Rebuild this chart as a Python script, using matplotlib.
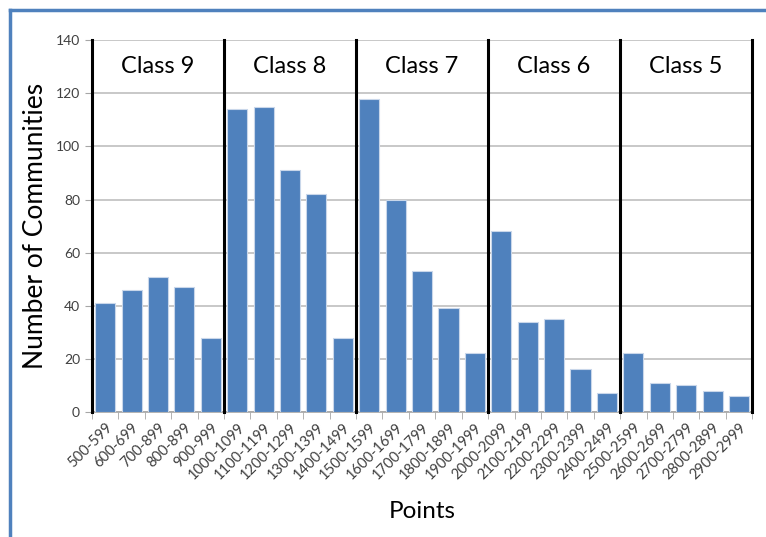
import matplotlib.pyplot as plt
from matplotlib.lines import Line2D

plt.rcParams['font.family'] = ['Lato', 'DejaVu Sans']

# Data
point_ranges = ['500-599', '600-699', '700-899', '800-899', '900-999',
                '1000-1099', '1100-1199', '1200-1299', '1300-1399', '1400-1499',
                '1500-1599', '1600-1699', '1700-1799', '1800-1899', '1900-1999',
                '2000-2099', '2100-2199', '2200-2299', '2300-2399', '2400-2499',
                '2500-2599', '2600-2699', '2700-2799', '2800-2899', '2900-2999']
communities = [41, 46, 51, 47, 28,
               114, 115, 91, 82, 28,
               118, 80, 53, 39, 22,
               68, 34, 35, 16, 7,
               22, 11, 10, 8, 6]
class_names = ['Class 9', 'Class 8', 'Class 7', 'Class 6', 'Class 5']
class_size = 5

fig = plt.figure(figsize=(7.66, 5.37), dpi=100)
ax = fig.add_axes([0.120, 0.233, 0.862, 0.692])

x = list(range(len(point_ranges)))
ax.bar(x, communities, width=0.76, color='#4F81BD', edgecolor='#C9D7EA',
       linewidth=0.8, zorder=3)

ax.set_xlim(-0.5, len(point_ranges) - 0.5)
ax.set_ylim(0, 140)
ax.set_yticks(range(0, 141, 20))
ax.yaxis.grid(True, color='#BFBFBF', linewidth=1.2, zorder=0)

# class separators
for i in range(len(class_names) + 1):
    xb = i * class_size - 0.5
    ax.plot([xb, xb], [0, 140], color='black', linewidth=2.2, zorder=4,
            clip_on=False)
for i, name in enumerate(class_names):
    ax.text(i * class_size + 2, 130, name, ha='center', va='center',
            fontsize=17, color='black')

ax.set_xticks(x)
ax.set_xticklabels(point_ranges, rotation=45, ha='right',
                   rotation_mode='anchor', fontsize=10.5, color='#404040')
ax.set_xticks([i - 0.5 for i in range(len(point_ranges) + 1)], minor=True)
ax.tick_params(axis='x', which='major', length=0, pad=6)
ax.tick_params(axis='x', which='minor', length=5, color='#A6A6A6')
ax.tick_params(axis='y', length=5, color='#A6A6A6', labelsize=10,
               labelcolor='#404040')

for side in ['top', 'right']:
    ax.spines[side].set_visible(False)
ax.spines['left'].set_visible(False)
ax.spines['bottom'].set_color('#A6A6A6')
ax.spines['bottom'].set_linewidth(1.2)

ax.set_ylabel('Number of Communities', fontsize=19, labelpad=6)
ax.set_xlabel('Points', fontsize=17.5, labelpad=14)

# blue frame on the left and top
fig.add_artist(Line2D([0.013, 0.013], [0.0, 0.981], color='#4F81BD',
                      linewidth=2.5, transform=fig.transFigure))
fig.add_artist(Line2D([0.013, 1.0], [0.981, 0.981], color='#4F81BD',
                      linewidth=2.5, transform=fig.transFigure))

fig.savefig('out.png', dpi=100)
